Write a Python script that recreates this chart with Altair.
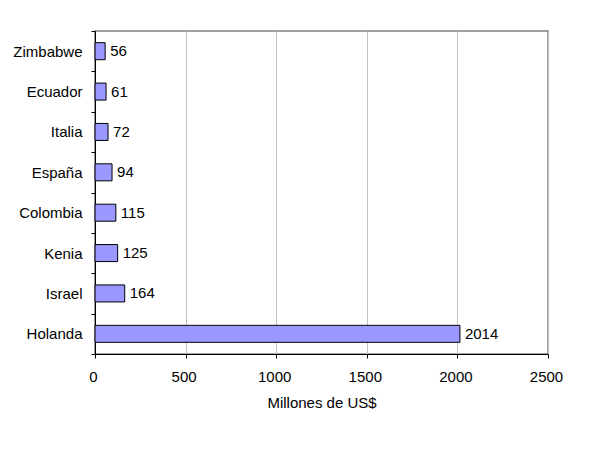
import altair as alt
import pandas as pd

countries = ["Zimbabwe", "Ecuador", "Italia", "España", "Colombia", "Kenia", "Israel", "Holanda"]
values = [56, 61, 72, 94, 115, 125, 164, 2014]
x_ticks = [0, 500, 1000, 1500, 2000, 2500]

df = pd.DataFrame({"pais": countries, "valor": values})

FONT = "Liberation Sans"
FS = 15

y_enc = alt.Y(
    "pais:N",
    sort=countries,
    title=None,
    scale=alt.Scale(paddingInner=0, paddingOuter=0),
    axis=alt.Axis(
        tickBand="extent",
        tickSize=4,
        tickColor="black",
        domainColor="black",
        labelColor="black",
        labelFont=FONT,
        labelFontSize=FS,
        labelPadding=9,
        grid=False,
    ),
)
x_enc = alt.X(
    "valor:Q",
    title="Millones de US$",
    scale=alt.Scale(domain=[0, 2500], nice=False),
    axis=alt.Axis(
        values=x_ticks,
        format="d",
        labelFlush=False,
        labelOffset=-2,
        tickSize=4,
        tickColor="black",
        domainColor="black",
        labelColor="black",
        labelFont=FONT,
        labelFontSize=FS,
        labelPadding=11,
        titleFont=FONT,
        titleFontSize=FS,
        titleFontWeight="normal",
        titleColor="black",
        titlePadding=11,
        grid=True,
        gridColor="#c0c0c0",
        gridWidth=1,
    ),
)

base = alt.Chart(df)
bars = base.mark_bar(color="#9999ff", stroke="black", strokeWidth=1, size=17).encode(x=x_enc, y=y_enc)
labels = base.mark_text(align="left", baseline="middle", dx=5, font=FONT, fontSize=FS, color="black").encode(
    x="valor:Q", y=alt.Y("pais:N", sort=countries), text="valor:Q"
)

chart = (
    alt.layer(bars, labels)
    .properties(
        width=453,
        height=323,
        autosize=alt.AutoSizeParams(type="none"),
        padding={"left": 95, "top": 31, "right": 44, "bottom": 97},
        background="white",
    )
    .configure_view(stroke="#808080", strokeWidth=1.5)
)

chart.save("out.html", embed_options={"renderer": "svg", "actions": False})
